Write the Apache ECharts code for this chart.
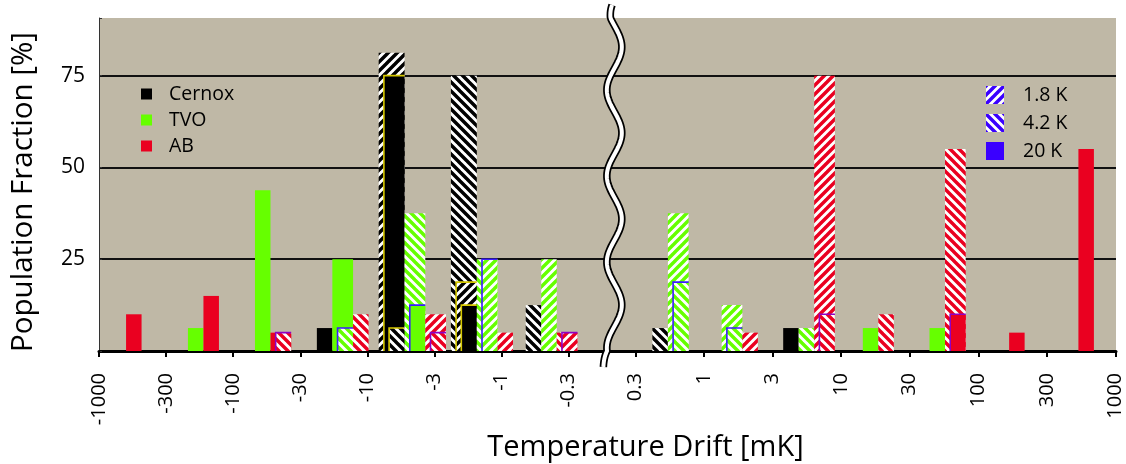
<!DOCTYPE html>
<html><head><meta charset="utf-8">
<script src="https://cdn.jsdelivr.net/npm/echarts@6/dist/echarts.min.js"></script>
<style>html,body{margin:0;padding:0;background:#fff}#c{width:1126px;height:464px}</style>
</head><body><div id="c"></div>
<script>
// ---- data ----
const tickLabels = ['-1000','-300','-100','-30','-10','-3','-1','-0.3','0.3','1','3','10','30','100','300','1000'];
// bins k = 0..14 lie between tickLabels[k] and tickLabels[k+1]; bin 7 is the axis break
const sensors = ['Cernox', 'TVO', 'AB'];
const temps = ['1.8 K', '4.2 K', '20 K'];
const cernox18 = [null,null,null,null,81.25,18.75,null,null,null,null,null,null,null,null,null];
const cernox42 = [null,null,null,null,6.25,75,12.5,null,6.25,null,null,null,null,null,null];
const cernox20 = [null,null,null,6.25,75,12.5,null,null,null,null,6.25,null,null,null,null];
const tvo18 = [null,null,null,null,null,25,25,null,37.5,12.5,null,null,null,null,null];
const tvo42 = [null,null,null,6.25,37.5,25,null,null,18.75,6.25,6.25,null,null,null,null];
const tvo20 = [null,6.25,43.75,25,12.5,null,null,null,null,null,null,6.25,6.25,null,null];
const ab18 = [null,null,null,null,10,5,5,null,null,5,75,null,null,null,null];
const ab42 = [null,null,5,10,5,null,5,null,null,null,10,10,55,null,null];
const ab20 = [10,15,5,null,null,null,null,null,null,null,null,null,10,5,55];

const sensorValues = [[cernox18, cernox42, cernox20], [tvo18, tvo42, tvo20], [ab18, ab42, ab20]];
const BREAK_BIN = 7;

// ---- styles / geometry ----
const SENSOR_COLORS = ['#000000', '#66ff00', '#ea0020'];
const OUTLINE_COLORS = ['#d6c800', '#3a1cff', '#8e00c4'];
const LEGEND_BLUE = '#3a00ff';
const BG = '#bfb8a6';
const FONT = 'Open Sans';
const GRID_LEFT = 99, GRID_RIGHT = 10, CHART_W = 1126;
const GRID_W = CHART_W - GRID_LEFT - GRID_RIGHT;
// pixel pitch of the two tick scales and of the two bar scales
const TICK_STEP_L = 67.1, TICK_STEP_R = 68.55, RIGHT_TICK0_PX = 635.5 - GRID_LEFT;
const BAR_STEP_L = 69.63, BAR_STEP_R = 69.28, BAR_R_ORIGIN_PX = 81.6 - GRID_LEFT;

function hatch(color, dir) {
  const s = 9;
  const c = document.createElement('canvas');
  c.width = s; c.height = s;
  const g = c.getContext('2d');
  g.fillStyle = '#ffffff'; g.fillRect(0, 0, s, s);
  g.strokeStyle = color; g.lineWidth = s / Math.SQRT2 / 2 + 0.3;
  g.beginPath();
  for (const k of [-s, 0, s]) {
    if (dir === '/') { g.moveTo(k - 1, s + 1); g.lineTo(k + s + 1, -1); }
    else { g.moveTo(k - 1, -1); g.lineTo(k + s + 1, s + 1); }
  }
  g.stroke();
  return { image: c, repeat: 'repeat' };
}
const fills = SENSOR_COLORS.map(col => [hatch(col, '/'), hatch(col, '\\'), col]);

// ---- layout of the clustered, layered bars (pixel sizes) ----
const BASE_W = 15.5, STEP_W = 5.2;
const NBINS = tickLabels.length - 1;
const layout = [];
for (let k = 0; k < NBINS; k++) {
  const widths = sensorValues.map(arrs => {
    const n = arrs.filter(a => a[k] != null).length;
    return n ? BASE_W + STEP_W * (n - 1) : 0;
  });
  const total = widths.reduce((a, b) => a + b, 0);
  let x = -total / 2;
  layout.push(widths.map(w => { x += w; return x; })); // right edge offset of each sensor slot
}

function sensorSeries(si, right) {
  const arrs = sensorValues[si];
  const data = [];
  for (let k = 0; k < NBINS; k++) {
    if ((k > BREAK_BIN) !== right) continue;
    const vals = arrs.map(a => a[k]).filter(v => v != null);
    if (vals.length) data.push([k + 0.5, Math.max(...vals)]);
  }
  return {
    name: sensors[si], type: 'custom', z: 3,
    xAxisIndex: right ? 3 : 2,
    itemStyle: { color: SENSOR_COLORS[si] },
    encode: { x: 0, y: 1 },
    data: data,
    renderItem: function (params, api) {
      const k = Math.floor(api.value(0));
      const base = api.coord([k + 0.5, 0]);
      const rightEdge = base[0] + layout[k][si];
      const y0 = base[1];
      const layers = arrs.map((a, t) => ({ t: t, v: a[k] }))
        .filter(l => l.v != null)
        .sort((a, b) => (b.v - a.v) || (b.t - a.t));
      const n = layers.length;
      const children = [];
      layers.forEach((l, i) => {
        const w = BASE_W + STEP_W * (n - 1 - i);
        const yTop = api.coord([k + 0.5, l.v])[1];
        children.push({ type: 'rect', shape: { x: rightEdge - w, y: yTop, width: w, height: y0 - yTop },
          style: { fill: fills[si][l.t] } });
        if (i > 0) children.push({ type: 'polyline',
          shape: { points: [[rightEdge - w, y0], [rightEdge - w, yTop], [rightEdge, yTop]] },
          style: { stroke: OUTLINE_COLORS[si], lineWidth: 1.6, fill: null } });
      });
      return { type: 'group', children: children };
    }
  };
}

const legendTempFills = [hatch(LEGEND_BLUE, '/'), hatch(LEGEND_BLUE, '\\'), LEGEND_BLUE];
const tempSeries = temps.map((t, i) => ({
  name: t, type: 'custom', data: [], itemStyle: { color: legendTempFills[i] },
  renderItem: function () { return null; }
}));

const breakSeries = {
  type: 'custom', z: 10, silent: true, clip: false, data: [[7.68, 0]],
  encode: { x: 0, y: 1 },
  renderItem: function (params, api) {
    const b = api.coord([7.68, 0]);
    const t = api.coord([7.68, 90.7]);
    const pts = [];
    const yStart = t[1] - 13, yEnd = b[1] + 16;
    for (let y = yStart; y <= yEnd; y += 2) {
      pts.push([b[0] + 7.5 * Math.cos(2 * Math.PI * (y - 133) / 86) - (y > b[1] ? (y - b[1]) * 0.6 : 0) + (y < t[1] ? (t[1] - y) * 0.4 : 0), y]);
    }
    return { type: 'group', children: [
      { type: 'polyline', shape: { points: pts }, style: { stroke: '#000', lineWidth: 7.5, fill: null } },
      { type: 'polyline', shape: { points: pts }, style: { stroke: '#fff', lineWidth: 4, fill: null } }
    ] };
  }
};

const leftTicks = tickLabels.map((_, i) => i).filter(i => i <= BREAK_BIN);
const rightTicks = tickLabels.map((_, i) => i).filter(i => i > BREAK_BIN);
const tickLabelStyle = { rotate: 90, margin: 22, fontFamily: FONT, fontSize: 20, color: '#000',
  showMinLabel: true, showMaxLabel: true, hideOverlap: false,
  formatter: v => tickLabels[Math.round(v)] };

const chart = echarts.init(document.getElementById('c'), null, { renderer: 'canvas' });
chart.setOption({
  animation: false,
  backgroundColor: '#ffffff',
  textStyle: { fontFamily: FONT },
  grid: { left: GRID_LEFT, right: GRID_RIGHT, top: 18, bottom: 113, show: true, backgroundColor: BG, borderWidth: 0,
          containLabel: false, outerBoundsMode: 'none' },
  legend: [
    { data: sensors, orient: 'vertical', left: 141, top: 84, padding: 0, icon: 'rect', itemWidth: 11, itemHeight: 11, itemGap: 6,
      textStyle: { fontFamily: FONT, fontSize: 19.5, color: '#000', padding: [0, 0, 0, 12] } },
    { data: temps, orient: 'vertical', left: 986, top: 85, padding: 0, icon: 'rect', itemWidth: 18, itemHeight: 18, itemGap: 8,
      textStyle: { fontFamily: FONT, fontSize: 19.5, color: '#000', padding: [0, 0, 0, 14] } }
  ],
  xAxis: [
    { // left tick scale (also carries axis line and title)
      type: 'value', position: 'bottom', min: 0, max: GRID_W / TICK_STEP_L,
      name: 'Temperature Drift [mK]', nameLocation: 'middle', nameGap: 70,
      nameTextStyle: { fontFamily: FONT, fontSize: 29, color: '#000', padding: [0, 0, 0, 76] },
      axisLine: { show: true, lineStyle: { color: '#000', width: 3 } },
      axisTick: { show: true, length: 6, lineStyle: { color: '#000', width: 2 }, customValues: leftTicks },
      axisLabel: Object.assign({ customValues: leftTicks }, tickLabelStyle),
      splitLine: { show: false }
    },
    { // right tick scale
      type: 'value', position: 'bottom', offset: 0,
      min: 8 - RIGHT_TICK0_PX / TICK_STEP_R, max: 8 + (GRID_W - RIGHT_TICK0_PX) / TICK_STEP_R,
      axisLine: { show: false },
      axisTick: { show: true, length: 6, lineStyle: { color: '#000', width: 2 }, customValues: rightTicks },
      axisLabel: Object.assign({ customValues: rightTicks }, tickLabelStyle),
      splitLine: { show: false }
    },
    { // bar placement scale, left of the break
      type: 'value', position: 'bottom', show: false, min: 0, max: GRID_W / BAR_STEP_L
    },
    { // bar placement scale, right of the break
      type: 'value', position: 'bottom', show: false,
      min: -BAR_R_ORIGIN_PX / BAR_STEP_R, max: (GRID_W - BAR_R_ORIGIN_PX) / BAR_STEP_R
    }
  ],
  yAxis: {
    type: 'value', min: 0, max: 90.7, interval: 25,
    name: 'Population Fraction [%]', nameLocation: 'middle', nameGap: 60,
    nameTextStyle: { fontFamily: FONT, fontSize: 29.5, color: '#000', padding: [0, 15, 0, 0] },
    axisLine: { show: true, lineStyle: { color: '#333', width: 1 } },
    axisTick: { show: true, inside: true, length: 3, lineStyle: { color: '#333' } },
    axisLabel: { margin: 14, fontFamily: FONT, fontSize: 21, color: '#000',
      formatter: v => (v > 0 && v < 90 && v % 25 === 0) ? String(v) : '' },
    splitLine: { show: true, showMinLine: false, showMaxLine: false, lineStyle: { color: '#111', width: 2 } }
  },
  series: [sensorSeries(0, false), sensorSeries(0, true), sensorSeries(1, false), sensorSeries(1, true),
           sensorSeries(2, false), sensorSeries(2, true)].concat(tempSeries, [breakSeries])
});
</script>
</body></html>
